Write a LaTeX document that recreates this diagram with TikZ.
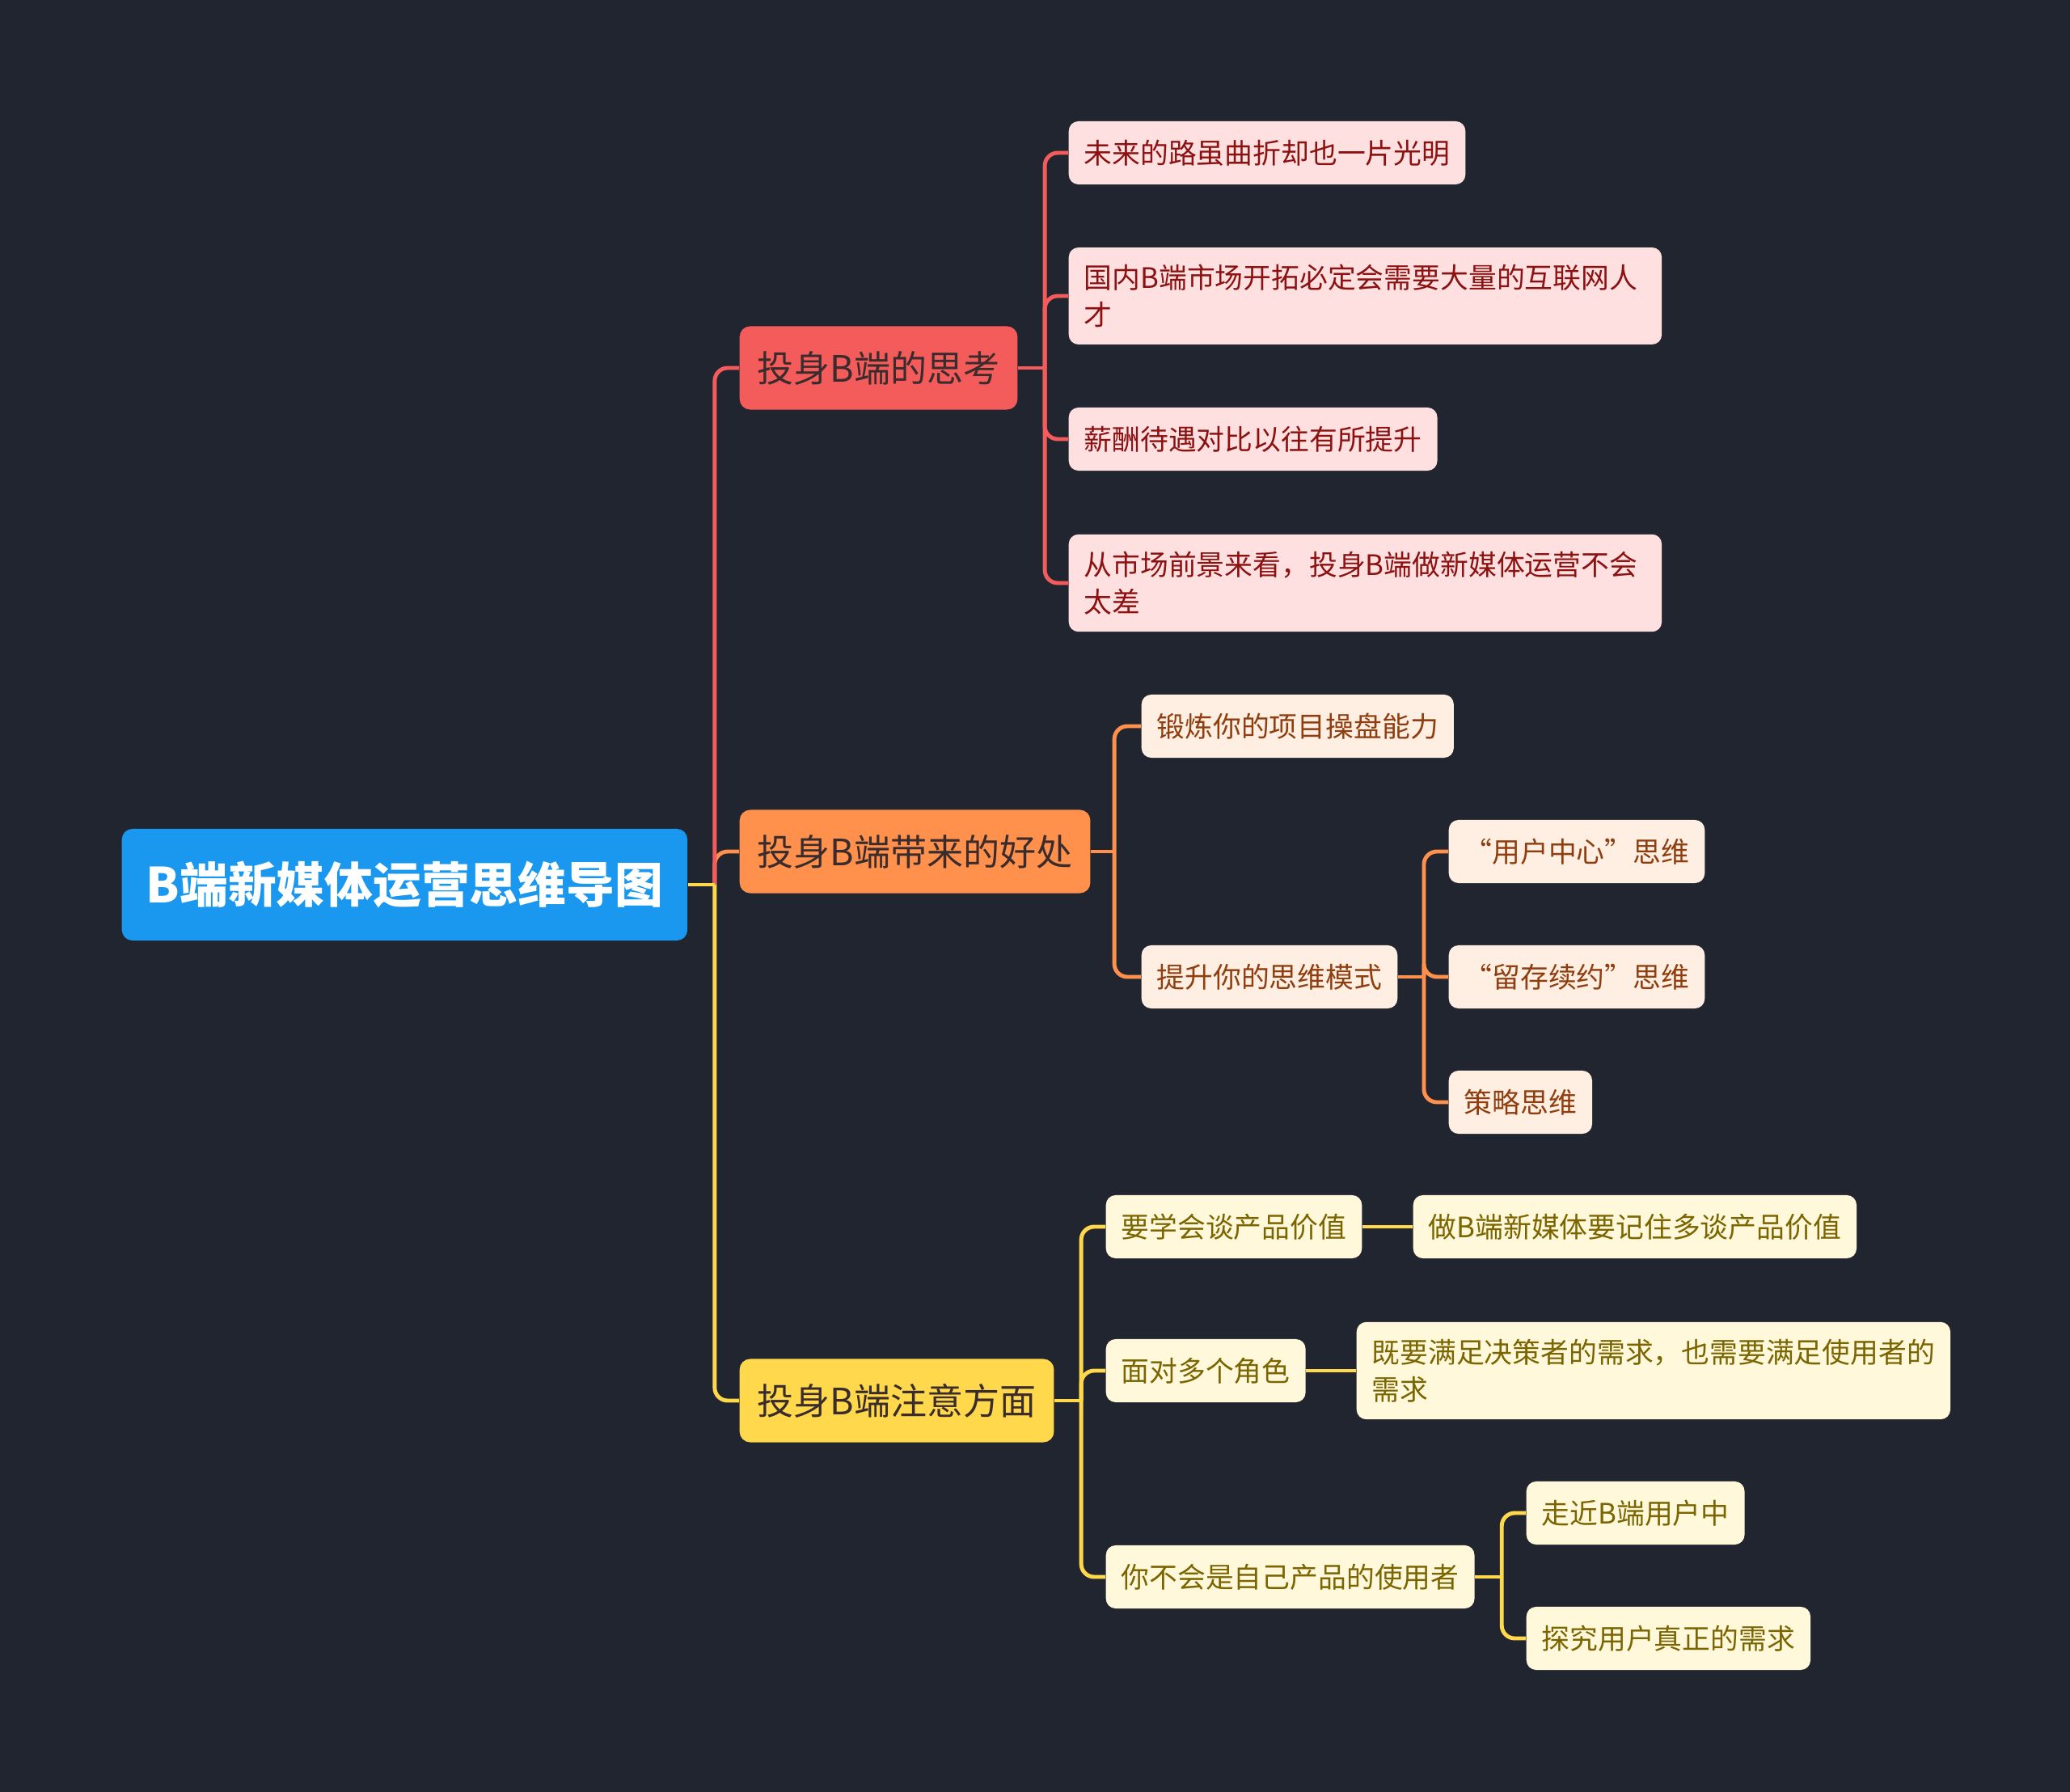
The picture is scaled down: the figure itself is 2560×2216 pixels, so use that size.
\documentclass[tikz,border=0pt]{standalone}
\usepackage{fontspec}
\setmainfont{Noto Sans CJK SC}

\definecolor{bgdark}{HTML}{21252F}
\definecolor{rootblue}{HTML}{1A98EF}
\definecolor{redmain}{HTML}{F45B5B}
\definecolor{orangemain}{HTML}{FF914D}
\definecolor{yellowmain}{HTML}{FFD84B}
\definecolor{redsub}{HTML}{FFE0E1}
\definecolor{redtext}{HTML}{8C1212}
\definecolor{orangesub}{HTML}{FFEEE2}
\definecolor{orangetext}{HTML}{8F3E10}
\definecolor{yellowsub}{HTML}{FFF8DB}
\definecolor{yellowtext}{HTML}{7B6500}
\definecolor{maintext}{HTML}{3A2C2C}

\tikzset{
	rootbox/.style={rounded corners=0.13cm, fill=rootblue, text=white, font=\fontsize{17}{20}\selectfont\bfseries, minimum height=1.38cm, inner xsep=0.3cm, anchor=west},
	mainbox/.style={rounded corners=0.13cm, text=maintext, font=\fontsize{12.8}{15}\selectfont, minimum height=1.03cm, inner xsep=0.22cm, anchor=west},
	subbox/.style={rounded corners=0.12cm, font=\fontsize{9.9}{13.1}\selectfont, minimum height=0.78cm, inner xsep=0.19cm, inner ysep=0.21cm, align=left, anchor=west},
	widebox/.style={text width=6.95cm},
	redsubbox/.style={subbox, fill=redsub, text=redtext},
	orangesubbox/.style={subbox, fill=orangesub, text=orangetext},
	yellowsubbox/.style={subbox, fill=yellowsub, text=yellowtext},
	link/.style={line width=1.4pt, rounded corners=0.16cm},
}

\begin{document}
\begin{tikzpicture}[x=0.01cm, y=-0.01cm]
			\useasboundingbox (0,0) rectangle (2560,2216);
			\fill[bgdark] (0,0) rectangle (2560,2216);% background

			%	Root
			\node[rootbox] (root) at (150,1094) {B端新媒体运营思维导图};

			%	Main branches
			\node[mainbox, fill=redmain] (m1) at (914,455) {投身B端的思考};
			\node[mainbox, fill=orangemain] (m2) at (914,1053) {投身B端带来的好处};
			\node[mainbox, fill=yellowmain] (m3) at (914,1732) {投身B端注意方面};

			%	Red children
			\node[redsubbox] (r1) at (1321,189) {未来的路虽曲折却也一片光明};
			\node[redsubbox, widebox] (r2) at (1321,366) {国内B端市场开拓必定会需要大量的互联网人\\才};
			\node[redsubbox] (r3) at (1321,543) {薪酬待遇对比以往有所提升};
			\node[redsubbox, widebox] (r4) at (1321,721) {从市场前景来看，投身B端做新媒体运营不会\\太差};

			%	Orange children
			\node[orangesubbox] (o1) at (1411,898) {锻炼你的项目操盘能力};
			\node[orangesubbox] (o2) at (1411,1208) {提升你的思维模式};
			\node[orangesubbox] (g1) at (1791,1053) {“用户中心”思维};
			\node[orangesubbox] (g2) at (1791,1208) {“留存续约”思维};
			\node[orangesubbox] (g3) at (1791,1363) {策略思维};

			%	Yellow children
			\node[yellowsubbox] (y1) at (1367,1517) {要学会谈产品价值};
			\node[yellowsubbox] (y1a) at (1747,1517) {做B端新媒体要记住多谈产品价值};
			\node[yellowsubbox] (y2) at (1367,1695) {面对多个角色};
			\node[yellowsubbox] (y2a) at (1677,1695) {既要满足决策者的需求，也需要满足使用者的\\需求};
			\node[yellowsubbox] (y3) at (1367,1950) {你不会是自己产品的使用者};
			\node[yellowsubbox] (y3a) at (1887,1871) {走近B端用户中};
			\node[yellowsubbox] (y3b) at (1887,2026) {探究用户真正的需求};

			%	Junctions
			\coordinate (rj) at ([xshift=0.33cm]root.east);
			\coordinate (cr) at ([xshift=0.33cm]m1.east);
			\coordinate (co) at ([xshift=0.29cm]m2.east);
			\coordinate (cg) at ([xshift=0.32cm]o2.east);
			\coordinate (cy) at ([xshift=0.33cm]m3.east);
			\coordinate (cu) at ([xshift=0.33cm]y3.east);

			%	Root to main branches
			\draw[link, orangemain] (rj) |- (m2.west);
			\draw[link, redmain] (rj) |- (m1.west);
			\draw[link, yellowmain] (rj) |- (m3.west);
			\draw[link, yellowmain] (root.east) -- (rj);

			%	Red links
			\draw[link, redmain] (m1.east) -- (cr);
			\foreach \c in {r1,r2,r3,r4}
				\draw[link, redmain] (cr) |- (\c.west);

			%	Orange links
			\draw[link, orangemain] (m2.east) -- (co);
			\foreach \c in {o1,o2}
				\draw[link, orangemain] (co) |- (\c.west);
			\draw[link, orangemain] (o2.east) -- (cg);
			\foreach \c in {g1,g2,g3}
				\draw[link, orangemain] (cg) |- (\c.west);

			%	Yellow links
			\draw[link, yellowmain] (m3.east) -- (cy);
			\foreach \c in {y1,y2,y3}
				\draw[link, yellowmain] (cy) |- (\c.west);
			\draw[link, yellowmain] (y1.east) -- (y1a.west);
			\draw[link, yellowmain] (y2.east) -- (y2a.west);
			\draw[link, yellowmain] (y3.east) -- (cu);
			\foreach \c in {y3a,y3b}
				\draw[link, yellowmain] (cu) |- (\c.west);
\end{tikzpicture}
\end{document}
